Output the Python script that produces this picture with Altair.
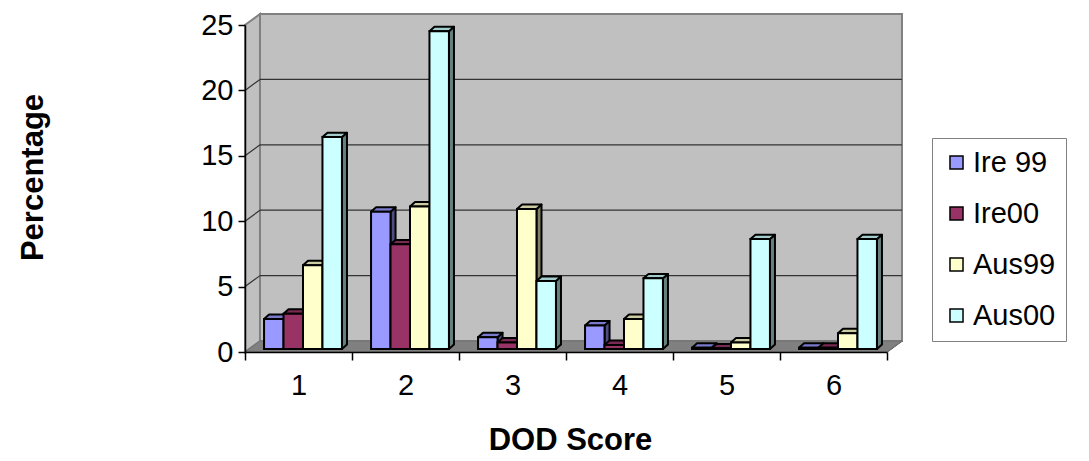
import altair as alt
import pandas as pd

# DOD score categories and the four survey series (percentages)
scores = ["1", "2", "3", "4", "5", "6"]
series = ["Ire 99", "Ire00", "Aus99", "Aus00"]
ire99 = [2.3, 10.5, 0.9, 1.8, 0.1, 0.1]
ire00 = [2.7, 8.0, 0.5, 0.3, 0.05, 0.1]
aus99 = [6.4, 10.9, 10.7, 2.3, 0.5, 1.2]
aus00 = [16.2, 24.3, 5.2, 5.4, 8.4, 8.4]
values = {"Ire 99": ire99, "Ire00": ire00, "Aus99": aus99, "Aus00": aus00}

# face colours of the pseudo-3D columns: front, top (shaded), side (dark)
front_colors = ["#9999FF", "#993366", "#FFFFCC", "#CCFFFF"]
top_colors = ["#7A7ACC", "#7A2952", "#CCCCA3", "#A3CCCC"]
side_colors = ["#4D4D80", "#4D1A33", "#808066", "#668080"]

Y_MAX = 25
N = len(scores)

# depth geometry, in data units (x: one score band = 1, y: percent)
WALL_DX, WALL_DY = 0.14, 0.84      # depth of the box (back wall offset)
BAR_START, BAR_W = 0.178, 0.182    # first column offset in a band, column width
BAR_DX, BAR_DY = 0.047, 0.34       # depth of each column
BAR_BASE = 0.23                    # columns stand mid-way into the floor

front_rows, side_rows, top_rows = [], [], []
for gi, sc in enumerate(scores):
    for si, name in enumerate(series):
        v = values[name][gi]
        x0 = gi + BAR_START + si * BAR_W
        x1 = x0 + BAR_W
        y0 = BAR_BASE
        y1 = BAR_BASE + v
        bar = f"{sc}-{si}"
        front_rows.append(dict(bar=bar, series=name, score=sc, value=v,
                               x0=x0, x1=x1, y0=y0, y1=y1))
        for x, lo, hi in [(x1, y0, y1), (x1 + BAR_DX, y0 + BAR_DY, y1 + BAR_DY)]:
            side_rows.append(dict(bar=bar, shade=side_colors[si], x=x, lo=lo, hi=hi))
        for x, lo, hi in [(x0, y1, y1), (x0 + BAR_DX, y1, y1 + BAR_DY),
                          (x1, y1, y1 + BAR_DY), (x1 + BAR_DX, y1 + BAR_DY, y1 + BAR_DY)]:
            top_rows.append(dict(bar=bar, shade=top_colors[si], x=x, lo=lo, hi=hi))

fronts = pd.DataFrame(front_rows)
sides = pd.DataFrame(side_rows)
tops = pd.DataFrame(top_rows)

back_wall = pd.DataFrame([dict(x0=WALL_DX, x1=N + WALL_DX, y0=WALL_DY, y1=Y_MAX + WALL_DY)])
side_wall = pd.DataFrame(dict(x=[0, WALL_DX], lo=[0, WALL_DY], hi=[Y_MAX, Y_MAX + WALL_DY]))
floor = pd.DataFrame(dict(x=[0, WALL_DX, N, N + WALL_DX],
                          lo=[0, 0, 0, WALL_DY],
                          hi=[0, WALL_DY, WALL_DY, WALL_DY]))

ticks = [0, 5, 10, 15, 20, 25]
grid_rows = []
for t in ticks[1:-1]:
    grid_rows.append(dict(xa=WALL_DX, xb=N + WALL_DX, ya=t + WALL_DY, yb=t + WALL_DY))
    grid_rows.append(dict(xa=0, xb=WALL_DX, ya=t, yb=t + WALL_DY))
grid_rows.append(dict(xa=N, xb=N + WALL_DX, ya=0, yb=WALL_DY))
grid = pd.DataFrame(grid_rows)

FONT = "Liberation Sans"
xs = alt.Scale(domain=[0, N], nice=False, zero=False, padding=0)
ys = alt.Scale(domain=[0, Y_MAX], nice=False, zero=True, padding=0)

# one shared axis definition per channel, repeated in every layer so they merge
x_axis = alt.Axis(
    values=list(range(N + 1)),
    labelExpr="datum.value < 6 ? '' + (datum.value + 1) : ''",
    labelOffset=53.5, labelFlush=False, labelOverlap=False, labelBound=False,
    labelFont=FONT, labelFontSize=29, labelColor="black", labelPadding=11,
    tickSize=8, tickColor="black", tickWidth=1.5,
    domainColor="black", domainWidth=1.5, grid=False, zindex=1,
    title="DOD Score", titleFont=FONT, titleFontSize=31, titleFontWeight="bold",
    titleColor="black", titleX=325, titleY=88, titleBaseline="middle",
)
y_axis = alt.Axis(
    values=ticks, labelFlush=False, labelOverlap=False,
    labelFont=FONT, labelFontSize=29, labelColor="black", labelPadding=5,
    tickSize=7, tickColor="black", tickWidth=1.5,
    domainColor="black", domainWidth=1.5, grid=False, zindex=1,
    title="Percentage", titleFont=FONT, titleFontSize=31, titleFontWeight="bold",
    titleColor="black", titleAngle=270, titleX=-212, titleY=152,
    titleAlign="center", titleBaseline="middle",
)

wall_layer = alt.Chart(back_wall).mark_rect(
    fill="#C0C0C0", stroke="#808080", strokeWidth=2
).encode(
    x=alt.X("x0:Q", scale=xs, axis=x_axis), x2="x1:Q",
    y=alt.Y("y0:Q", scale=ys, axis=y_axis), y2="y1:Q",
)

side_wall_layer = alt.Chart(side_wall).mark_area(
    fill="#C0C0C0", stroke="#808080", strokeWidth=2
).encode(
    x=alt.X("x:Q", scale=xs, axis=x_axis),
    y=alt.Y("lo:Q", scale=ys, axis=y_axis, stack=None), y2="hi:Q",
)

grid_layer = alt.Chart(grid).mark_rule(color="#333333", strokeWidth=1.2).encode(
    x=alt.X("xa:Q", scale=xs, axis=x_axis), x2="xb:Q",
    y=alt.Y("ya:Q", scale=ys, axis=y_axis), y2="yb:Q",
)

floor_layer = alt.Chart(floor).mark_area(fill="#808080", stroke="#707070", strokeWidth=1).encode(
    x=alt.X("x:Q", scale=xs, axis=x_axis),
    y=alt.Y("lo:Q", scale=ys, axis=y_axis, stack=None), y2="hi:Q",
)

side_layer = alt.Chart(sides).mark_area(stroke="black", strokeWidth=2, strokeJoin="round").encode(
    x=alt.X("x:Q", scale=xs, axis=x_axis),
    y=alt.Y("lo:Q", scale=ys, axis=y_axis, stack=None), y2="hi:Q",
    detail="bar:N",
    fill=alt.Fill("shade:N", scale=None),
)

top_layer = alt.Chart(tops).mark_area(stroke="black", strokeWidth=2, strokeJoin="round").encode(
    x=alt.X("x:Q", scale=xs, axis=x_axis),
    y=alt.Y("lo:Q", scale=ys, axis=y_axis, stack=None), y2="hi:Q",
    detail="bar:N",
    fill=alt.Fill("shade:N", scale=None),
)

front_layer = alt.Chart(fronts).mark_rect(stroke="black", strokeWidth=2).encode(
    x=alt.X("x0:Q", scale=xs, axis=x_axis), x2="x1:Q",
    y=alt.Y("y0:Q", scale=ys, axis=y_axis), y2="y1:Q",
    color=alt.Color("series:N", scale=alt.Scale(domain=series, range=front_colors),
                    sort=series,
                    legend=alt.Legend(
                        title=None, orient="none", legendX=687, legendY=113,
                        direction="vertical", symbolType="square", symbolSize=170,
                        symbolStrokeColor="black", symbolStrokeWidth=1.5,
                        symbolOpacity=1,
                        labelFont=FONT, labelFontSize=29, labelColor="black",
                        labelOffset=2, rowPadding=21, padding=10,
                        fillColor="white", strokeColor="#808080",
                    )),
    tooltip=["score:N", "series:N", "value:Q"],
)

chart = alt.layer(
    wall_layer, side_wall_layer, grid_layer, floor_layer,
    side_layer, top_layer, front_layer,
).properties(
    width=642, height=327,
    autosize=alt.AutoSizeParams(type="none"),
    padding={"left": 245, "top": 25, "right": 202, "bottom": 109},
    background="white",
).configure_view(stroke="transparent")

chart.save("out.html", embed_options={"renderer": "svg", "actions": False})
